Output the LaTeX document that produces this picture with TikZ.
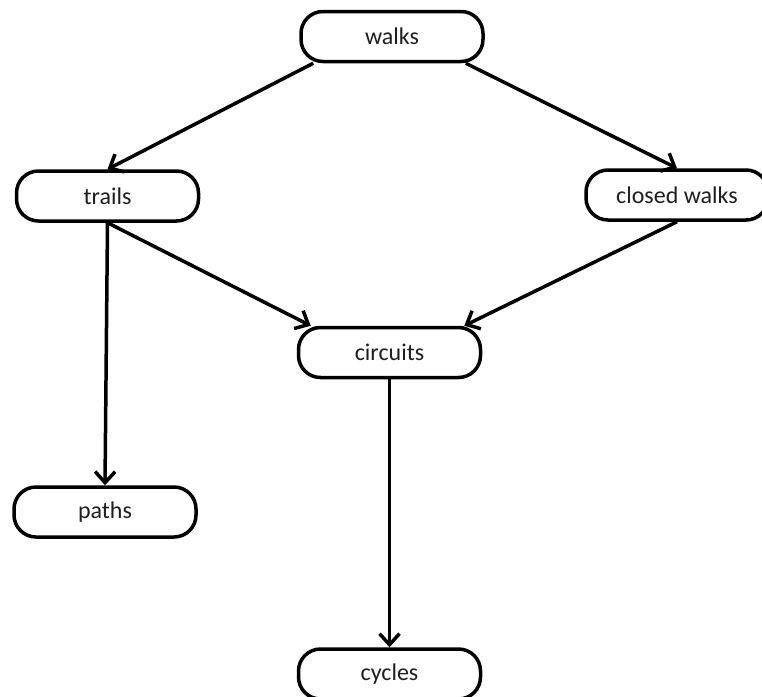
\documentclass[tikz,border=0pt]{standalone}
\usepackage{fontspec}
\setmainfont{Carlito}
\usetikzlibrary{arrows.meta}
\tikzset{
  box/.style={draw=black, line width=3.5pt, rounded corners=22pt, fill=white,
    minimum width=182pt, minimum height=50pt, inner sep=0pt,
    font=\fontsize{24}{28}\selectfont, text=black!88},
  link/.style={line width=3.5pt, -{Straight Barb[length=11pt,width=20pt,line width=3.5pt]}}
}
\begin{document}
\begin{tikzpicture}[x=1pt,y=-1pt]
\clip (0,0) rectangle (762,696);
\fill[white] (0,0) rectangle (762,696);
\node[box] (walks) at (392,36.5) {walks};
\node[box] (trails) at (107.5,196) {trails};
\node[box] (closed) at (677,195) {closed walks};
\node[box] (circuits) at (389.5,352.5) {circuits};
\node[box] (paths) at (105,512) {paths};
\node[box] (cycles) at (389.5,674) {cycles};
\draw[link] ([xshift=14pt]walks.south west) -- (trails.north);
\draw[link] ([xshift=-19pt]walks.south east) -- (closed.north);
\draw[link] (trails.south) -- ([xshift=14pt]circuits.north west);
\draw[link] (closed.south) -- ([xshift=-18pt]circuits.north east);
\draw[link] (trails.south) -- (paths.north);
\draw[link] (circuits.south) -- (cycles.north);
\end{tikzpicture}
\end{document}
